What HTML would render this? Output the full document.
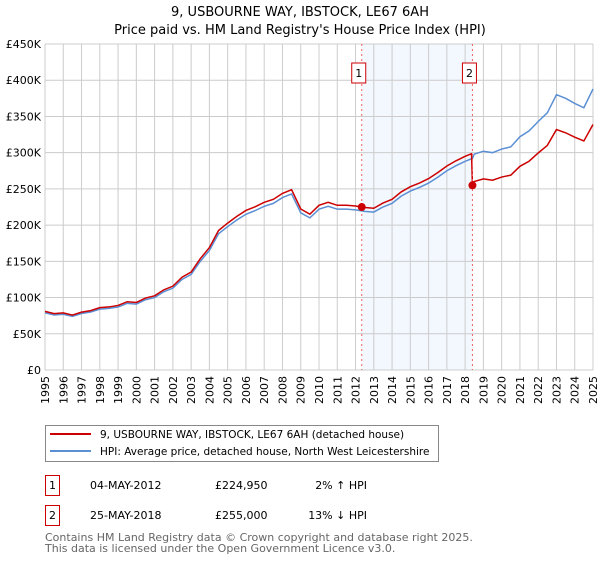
<!DOCTYPE html>
<html><head><meta charset="utf-8"><style>
body{margin:0;background:#fff;font-family:"Liberation Sans","DejaVu Sans",sans-serif;}
svg text{font-family:"DejaVu Sans","Liberation Sans",sans-serif;}
</style></head><body>
<svg id="c" width="600" height="560" xmlns="http://www.w3.org/2000/svg">
<text x="300" y="16" text-anchor="middle" font-size="13">9, USBOURNE WAY, IBSTOCK, LE67 6AH</text>
<text x="300" y="34" text-anchor="middle" font-size="13">Price paid vs. HM Land Registry's House Price Index (HPI)</text>
<g id="grid"></g><g id="plot"></g>
<g>
<rect x="45.5" y="425.5" width="393" height="36" fill="#fff" stroke="#888"/>
<line x1="50" y1="434" x2="91" y2="434" stroke="#cc0000" stroke-width="2"/>
<text x="100" y="438" font-size="10.5">9, USBOURNE WAY, IBSTOCK, LE67 6AH (detached house)</text>
<line x1="50" y1="451" x2="91" y2="451" stroke="#5b8fd4" stroke-width="2"/>
<text x="100" y="455" font-size="10.5">HPI: Average price, detached house, North West Leicestershire</text>
</g>
<g font-size="11">
<rect x="45.5" y="475.5" width="14" height="20" fill="#fff" stroke="#cc0000"/><text x="52.5" y="489" text-anchor="middle">1</text>
<text x="90" y="489">04-MAY-2012</text><text x="215" y="489">£224,950</text><text x="367" y="489" text-anchor="end">2% ↑ HPI</text>
<rect x="45.5" y="505.5" width="14" height="20" fill="#fff" stroke="#cc0000"/><text x="52.5" y="519" text-anchor="middle">2</text>
<text x="90" y="519">25-MAY-2018</text><text x="215" y="519">£255,000</text><text x="367" y="519" text-anchor="end">13% ↓ HPI</text>
</g>
<text x="45" y="541" font-size="11" fill="#666">Contains HM Land Registry data © Crown copyright and database right 2025.</text>
<text x="45" y="552" font-size="11" fill="#666">This data is licensed under the Open Government Licence v3.0.</text>
</svg>
<script>
const yTicks=[0,50,100,150,200,250,300,350,400,450];
const yTickLabels=["£0","£50K","£100K","£150K","£200K","£250K","£300K","£350K","£400K","£450K"];
const years=[1995,1996,1997,1998,1999,2000,2001,2002,2003,2004,2005,2006,2007,2008,2009,2010,2011,2012,2013,2014,2015,2016,2017,2018,2019,2020,2021,2022,2023,2024,2025];
const hpiDates=[1995,1995.5,1996,1996.5,1997,1997.5,1998,1998.5,1999,1999.5,2000,2000.5,2001,2001.5,2002,2002.5,2003,2003.5,2004,2004.5,2005,2005.5,2006,2006.5,2007,2007.5,2008,2008.5,2009,2009.5,2010,2010.5,2011,2011.5,2012,2012.5,2013,2013.5,2014,2014.5,2015,2015.5,2016,2016.5,2017,2017.5,2018,2018.4,2018.5,2019,2019.5,2020,2020.5,2021,2021.5,2022,2022.5,2023,2023.5,2024,2024.5,2025];
const hpiValues=[79,76,77,74,78,80,84,85,87,92,91,97,100,108,113,125,132,150,165,188,198,207,215,220,226,230,238,243,217,210,222,226,222,222,221,219,218,225,230,240,247,252,258,266,275,282,288,292,298,302,300,305,308,322,330,343,355,380,375,368,362,388];
const saleDates=[2012.34,2018.4];
const salePrices=[224.95,255];
const saleLabels=["1","2"];
const X0=45,X1=593,Y0=370,Y1=44;
const xs=t=>X0+(t-1995)/30*(X1-X0);
const ys=v=>Y0-v/450*(Y0-Y1);
const NS="http://www.w3.org/2000/svg";
function mk(tag,attrs,parent){const e=document.createElementNS(NS,tag);for(const k in attrs)e.setAttribute(k,attrs[k]);parent.appendChild(e);return e;}
const grid=document.getElementById('grid'),plot=document.getElementById('plot');
const sh=mk('rect',{x:xs(saleDates[0]),y:Y1,width:xs(saleDates[1])-xs(saleDates[0]),height:Y0-Y1,fill:'#eef3fd',opacity:0.7},grid);


yTicks.forEach((v,i)=>{
  const l=mk('line',{x1:X0,x2:X1,y1:ys(v),y2:ys(v),stroke:'#ccc'},grid);
  
  
  const t=mk('text',{x:X0-4,y:ys(v)+4,'text-anchor':'end','font-size':11},grid);
  t.textContent=yTickLabels[i];
  
  
});
years.forEach(y=>{
  const l=mk('line',{x1:xs(y),x2:xs(y),y1:Y1,y2:Y0,stroke:'#ccc'},grid);
  
  
  const t=mk('text',{x:0,y:0,'text-anchor':'end','font-size':11,transform:`translate(${xs(y)+4},${Y0+6}) rotate(-90)`},grid);
  t.textContent=y;
  
  
});
const hp=(t)=>{for(let i=1;i<hpiDates.length;i++){if(t<=hpiDates[i]){const a=hpiDates[i-1],b=hpiDates[i];return hpiValues[i-1]+(hpiValues[i]-hpiValues[i-1])*(t-a)/(b-a);}}return hpiValues[hpiValues.length-1];};
const f1=salePrices[0]/hp(saleDates[0]),f2=salePrices[1]/hp(saleDates[1]);
const hpiPath=hpiDates.map((d,i)=>(i?'L':'M')+xs(d)+','+ys(hpiValues[i])).join('');
const hl=mk('path',{d:hpiPath,fill:'none',stroke:'#5b8fd4','stroke-width':1.5},plot);


let pts=[];
hpiDates.forEach((d,i)=>{if(d<saleDates[1])pts.push([d,hpiValues[i]*f1]);});
pts.push([saleDates[1]-0.05,hp(saleDates[1]-0.05)*f1]);
pts.push([saleDates[1],salePrices[1]]);
hpiDates.forEach((d,i)=>{if(d>saleDates[1])pts.push([d,hpiValues[i]*f2]);});
const pl=mk('path',{d:pts.map((p,i)=>(i?'L':'M')+xs(p[0])+','+ys(p[1])).join(''),fill:'none',stroke:'#cc0000','stroke-width':1.5},plot);


saleDates.forEach((d,i)=>{
  const l=mk('line',{x1:xs(d),x2:xs(d),y1:Y1,y2:Y0,stroke:'#f06060','stroke-dasharray':'2,3'},plot);
  
  
  const c=mk('circle',{cx:xs(d),cy:ys(salePrices[i]),r:4,fill:'#cc0000'},plot);
  
  
  const b=mk('rect',{x:xs(d)-10,y:63,width:14,height:20,fill:'#fff',stroke:'#cc0000'},plot);
  
  
  const t=mk('text',{x:xs(d)-3,y:77,'text-anchor':'middle','font-size':11},plot);
  t.textContent=saleLabels[i];
  
  
});
</script>
</body></html>
